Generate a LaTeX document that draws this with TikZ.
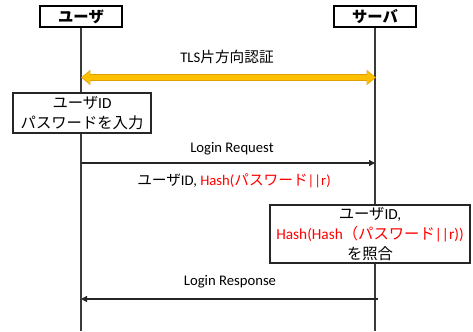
\documentclass[tikz,border=0pt]{standalone}
\usepackage{fontspec}
\setmainfont{Carlito}
\newfontfamily\jp{Noto Sans CJK JP}
\usetikzlibrary{arrows.meta}
\definecolor{gold}{HTML}{FFC000}
\definecolor{goldedge}{HTML}{E0A000}
\definecolor{hred}{HTML}{FF0000}
\definecolor{life}{HTML}{3A3A3A}
\tikzset{
  titlebox/.style={draw=black, line width=1.1pt, fill=white, inner sep=0pt,
    minimum width=61.5pt, minimum height=15.75pt, font=\jp\bfseries\fontsize{11.5}{13}\selectfont},
  procbox/.style={draw=black!85, line width=1.1pt, fill=white, inner sep=0pt, align=center,
    font=\fontsize{11.5}{15}\selectfont},
  lifeline/.style={draw=life, line width=0.95pt},
  msg/.style={draw=black!85, line width=0.95pt, -{Triangle[length=4.5pt,width=4.5pt]}},
  lbl/.style={inner sep=0pt, font=\fontsize{11}{13}\selectfont},
}
\begin{document}
\begin{tikzpicture}[x=0.75pt,y=-0.75pt]
\useasboundingbox (0,0) rectangle (473,331);
% lifeline ends
\coordinate (ubot) at (81,331);
\coordinate (sbot) at (375,331);
\coordinate (utop) at (81,27);
\coordinate (stop) at (375,27);
\draw[lifeline] (utop) -- (ubot);
\draw[lifeline] (stop) -- (sbot);
% heads
\node[titlebox] (user) at (81,16.5) {ユーザ};
\node[titlebox] (server) at (375,16.5) {サーバ};
% TLS
\coordinate (tlsu) at (81,77.5);
\coordinate (tlss) at (376,77.5);
\draw[line width=5.2pt, goldedge, {Triangle[length=7pt,width=11pt]}-{Triangle[length=7pt,width=11pt]}] (tlsu) -- (tlss);
\draw[line width=3.6pt, gold, shorten <=0.8pt, shorten >=0.8pt, {Triangle[length=5.8pt,width=9pt]}-{Triangle[length=5.8pt,width=9pt]}] (tlsu) -- (tlss);
\node[lbl] (tls) at (227,57) {TLS{\jp 片方向認証}};
% input box
\node[procbox, minimum width=103.5pt, minimum height=30pt] (input) at (82,113)
  {{\jp ユーザ}ID\\{\jp パスワードを入力}};
% login request
\coordinate (rqu) at (81,163);
\coordinate (rqs) at (375,163);
\draw[msg] (rqu) -- (rqs);
\node[lbl] (rqlbl) at (232,149) {Login Request};
\node[lbl] (rqdata) at (234,181) {{\jp ユーザ}ID, \textcolor{hred}{Hash({\jp パスワード}||r)}};
% verify box
\node[procbox, minimum width=150pt, minimum height=43.5pt] (verify) at (370,234)
  {{\jp ユーザ}ID,\\\textcolor{hred}{Hash(Hash{\jp （パスワード}||r))}\\{\jp を照合}};
% login response
\coordinate (rss) at (378,299);
\coordinate (rsu) at (81,299);
\draw[msg] (rss) -- (rsu);
\node[lbl] (rslbl) at (230,282) {Login Response};
\end{tikzpicture}
\end{document}
